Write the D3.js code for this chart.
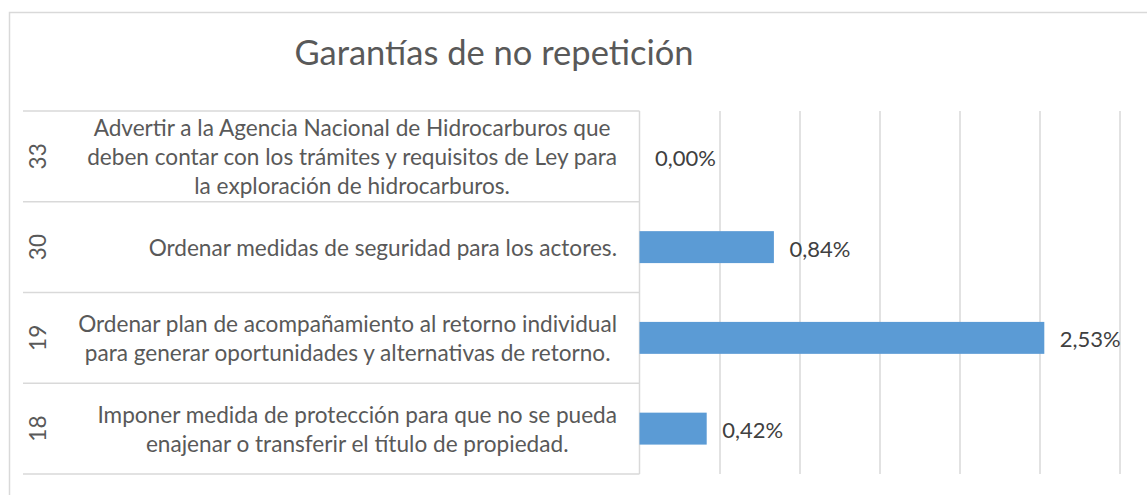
<!DOCTYPE html>
<html>
<head>
<meta charset="utf-8">
<script src="https://cdn.jsdelivr.net/npm/d3@7/dist/d3.min.js"></script>
<style>
  html, body { margin: 0; padding: 0; background: #ffffff; }
  svg { display: block; font-family: Lato, "Open Sans", sans-serif; }
</style>
</head>
<body>
<svg id="chart" width="1147" height="495"></svg>
<script>
const title = "Garantías de no repetición";
const codes = ["33", "30", "19", "18"];
const labels = [
  ["Advertir a la Agencia Nacional de Hidrocarburos que", "deben contar con los trámites y requisitos de Ley para", "la exploración de hidrocarburos."],
  ["Ordenar medidas de seguridad para los actores."],
  ["Ordenar plan de acompañamiento al retorno individual", "para generar oportunidades y alternativas de retorno."],
  ["Imponer medida de protección para que no se pueda", "enajenar o transferir el título de propiedad."]
];
const values = [0.00, 0.84, 2.53, 0.42];
const gridTicks = [0.5, 1.0, 1.5, 2.0, 2.5, 3.0];

const svg = d3.select("#chart");
const plot = { left: 639.5, right: 1119.5, top: 111, bottom: 474 };
const gridColor = "#d9d9d9";

const x = d3.scaleLinear().domain([0, 3]).range([plot.left, plot.right]);
const y = d3.scaleBand().domain(codes).range([plot.top, plot.bottom]).paddingInner(0).paddingOuter(0);
const barFrac = 0.352;

// chart frame (left + top visible)
svg.append("path")
  .attr("d", "M9.5,495 V12.5 H1147")
  .attr("fill", "none").attr("stroke", "#d9d9d9").attr("stroke-width", 1.5);

// title
svg.append("text")
  .attr("x", 494).attr("y", 65)
  .attr("text-anchor", "middle")
  .attr("fill", "#595959")
  .style("font-size", "34.5px")
  .text(title);

// vertical gridlines via axis
const gAxis = svg.append("g")
  .attr("transform", `translate(0,${plot.bottom})`)
  .call(d3.axisBottom(x).tickValues(gridTicks).tickSize(-(plot.bottom - plot.top)).tickFormat(""));
gAxis.select(".domain").remove();
gAxis.selectAll(".tick line").attr("stroke", gridColor).attr("stroke-width", 1.5);

// category axis line
svg.append("line")
  .attr("x1", x(0)).attr("x2", x(0))
  .attr("y1", plot.top).attr("y2", plot.bottom)
  .attr("stroke", gridColor).attr("stroke-width", 1.5);

// horizontal separators of the category axis
const bounds = codes.map(c => y(c)).concat([plot.bottom]);
svg.selectAll("line.sep").data(bounds).enter().append("line")
  .attr("class", "sep")
  .attr("x1", 23).attr("x2", x(0))
  .attr("y1", d => d).attr("y2", d => d)
  .attr("stroke", gridColor).attr("stroke-width", 1.5);

// bars
svg.selectAll("rect.bar").data(values).enter().append("rect")
  .attr("class", "bar")
  .attr("x", x(0))
  .attr("y", (d, i) => y(codes[i]) + y.bandwidth() * (1 - barFrac) / 2)
  .attr("width", d => x(d) - x(0))
  .attr("height", y.bandwidth() * barFrac)
  .attr("fill", "#5b9bd5");

// data labels
const fmt = v => v.toFixed(2).replace(".", ",") + "%";
svg.selectAll("text.dl").data(values).enter().append("text")
  .attr("class", "dl")
  .attr("x", d => x(d) + 15.5)
  .attr("y", (d, i) => y(codes[i]) + y.bandwidth() / 2 + 1)
  .attr("dominant-baseline", "central")
  .attr("fill", "#404040")
  .style("font-size", "22px")
  .text(fmt);

// outer level codes (rotated)
svg.selectAll("text.code").data(codes).enter().append("text")
  .attr("class", "code")
  .attr("transform", d => `translate(37,${y(d) + y.bandwidth() / 2}) rotate(-90)`)
  .attr("text-anchor", "middle")
  .attr("dominant-baseline", "central")
  .attr("fill", "#595959")
  .style("font-size", "22.5px")
  .text(d => d);

// inner level labels (multi-line, centred lines, right-aligned block)
const lineH = 29;
const blockRight = 617;
labels.forEach((lines, i) => {
  const g = svg.append("g");
  const cy = y(codes[i]) + y.bandwidth() / 2;
  const ts = g.selectAll("text").data(lines).enter().append("text")
    .attr("y", (d, j) => cy + (j - (lines.length - 1) / 2) * lineH)
    .attr("dominant-baseline", "central")
    .attr("text-anchor", "middle")
    .attr("fill", "#595959")
    .style("font-size", "22.6px")
    .text(d => d);
  let maxW = 0;
  ts.each(function () { maxW = Math.max(maxW, this.getComputedTextLength()); });
  ts.attr("x", blockRight - maxW / 2);
});
</script>
</body>
</html>
